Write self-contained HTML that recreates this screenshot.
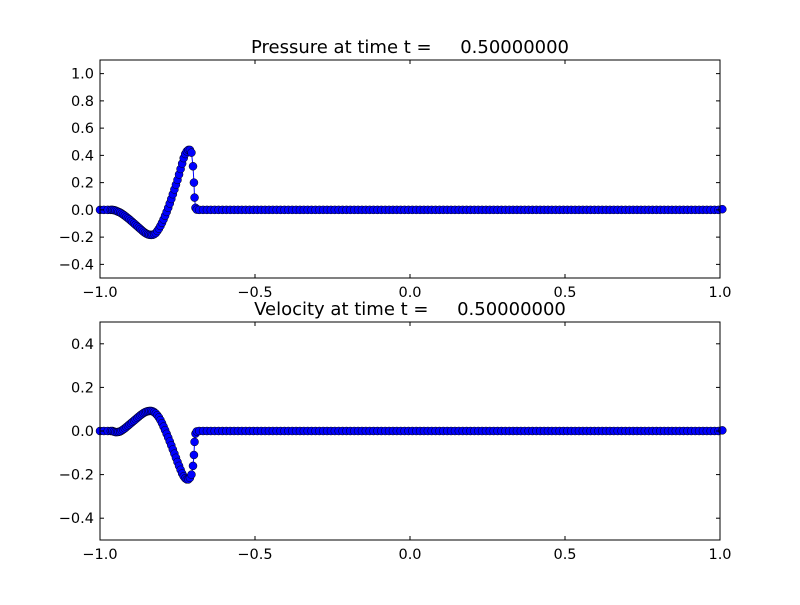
<!DOCTYPE html>
<html><head><meta charset="utf-8"><style>
body{margin:0;background:#fff;}
svg text{font-family:"DejaVu Sans","Liberation Sans",sans-serif;}
</style></head><body>
<svg id="chart" width="800" height="600" xmlns="http://www.w3.org/2000/svg">
<rect width="800" height="600" fill="#fff"/>
</svg>
<script>
const waveX = [-1.0,-0.9875,-0.975,-0.965,-0.96,-0.955,-0.95,-0.945,-0.94,-0.935,-0.93,-0.925,-0.92,-0.915,-0.91,-0.905,-0.9,-0.895,-0.89,-0.885,-0.88,-0.875,-0.87,-0.865,-0.86,-0.855,-0.85,-0.845,-0.84,-0.835,-0.83,-0.825,-0.82,-0.815,-0.81,-0.805,-0.8,-0.795,-0.79,-0.785,-0.78,-0.775,-0.77,-0.765,-0.76,-0.755,-0.75,-0.745,-0.74,-0.735,-0.73,-0.725,-0.72,-0.715,-0.71,-0.705,-0.7,-0.697,-0.695,-0.692,-0.688];
const wavePressure = [0,0,0,0,0,-0.002,-0.005,-0.01,-0.015,-0.02,-0.027,-0.035,-0.043,-0.052,-0.061,-0.07,-0.08,-0.09,-0.1,-0.11,-0.12,-0.13,-0.14,-0.15,-0.16,-0.168,-0.175,-0.18,-0.183,-0.184,-0.183,-0.178,-0.17,-0.155,-0.138,-0.118,-0.095,-0.07,-0.043,-0.015,0.015,0.047,0.08,0.115,0.15,0.185,0.22,0.26,0.3,0.34,0.38,0.41,0.43,0.44,0.44,0.42,0.32,0.2,0.09,0.015,0.002];
const waveVelocity = [0,0,0,0,0,-0.003,-0.005,-0.005,-0.004,-0.002,0.002,0.007,0.012,0.018,0.024,0.03,0.036,0.042,0.048,0.054,0.06,0.066,0.072,0.077,0.082,0.086,0.089,0.091,0.092,0.092,0.09,0.086,0.08,0.072,0.062,0.05,0.036,0.02,0.004,-0.013,-0.03,-0.048,-0.066,-0.085,-0.104,-0.123,-0.142,-0.16,-0.178,-0.195,-0.208,-0.217,-0.222,-0.222,-0.215,-0.2,-0.16,-0.11,-0.05,-0.012,-0.002];
const tailStart = -0.68, tailStep = 0.0125, tailCount = 136;
const tailPressure = [0,0,0,0,0,0,0,0,0,0,0,0,0,0,0,0,0,0,0,0,0,0,0,0,0,0,0,0,0,0,0,0,0,0,0,0,0,0,0,0,0,0,0,0,0,0,0,0,0,0,0,0,0,0,0,0,0,0,0,0,0,0,0,0,0,0,0,0,0,0,0,0,0,0,0,0,0,0,0,0,0,0,0,0,0,0,0,0,0,0,0,0,0,0,0,0,0,0,0,0,0,0,0,0,0,0,0,0,0,0,0,0,0,0,0,0,0,0,0,0,0,0,0,0,0,0,0,0,0,0,0,0,0,0,0,0.005];
const tailVelocity = [0,0,0,0,0,0,0,0,0,0,0,0,0,0,0,0,0,0,0,0,0,0,0,0,0,0,0,0,0,0,0,0,0,0,0,0,0,0,0,0,0,0,0,0,0,0,0,0,0,0,0,0,0,0,0,0,0,0,0,0,0,0,0,0,0,0,0,0,0,0,0,0,0,0,0,0,0,0,0,0,0,0,0,0,0,0,0,0,0,0,0,0,0,0,0,0,0,0,0,0,0,0,0,0,0,0,0,0,0,0,0,0,0,0,0,0,0,0,0,0,0,0,0,0,0,0,0,0,0,0,0,0,0,0,0,0.003];
const xTicks = [-1.0,-0.5,0.0,0.5,1.0];
const pTicks = [-0.4,-0.2,0.0,0.2,0.4,0.6,0.8,1.0];
const vTicks = [-0.4,-0.2,0.0,0.2,0.4];

const NS = "http://www.w3.org/2000/svg";
const svg = document.getElementById('chart');
function mk(tag, attrs, parent){const e=document.createElementNS(NS,tag);for(const k in attrs)e.setAttribute(k,attrs[k]);(parent||svg).appendChild(e);return e;}
function fmt(t){const s=Math.abs(t).toFixed(1);return (t<-1e-9?'\u2212':'')+s;}

const xs = waveX.slice();
for(let i=0;i<tailCount;i++) xs.push(tailStart+i*tailStep);
const P = wavePressure.concat(tailPressure);
const V = waveVelocity.concat(tailVelocity);

function panel(name, top, bottom, ymin, ymax, yticks, vals, title){
  const L=100,R=720;
  const sx=v=>L+(v+1)/2*(R-L);
  const sy=v=>bottom-(v-ymin)/(ymax-ymin)*(bottom-top);
  const g=mk('g',{});
  
  
  let d='';
  xs.forEach((x,i)=>{d+=(i?'L':'M')+sx(x).toFixed(2)+','+sy(vals[i]).toFixed(2);});
  const line=mk('path',{d:d,fill:'none',stroke:'#0000ff','stroke-width':1},g);
  
  
  xs.forEach((x,i)=>{
    const c=mk('circle',{cx:sx(x).toFixed(2),cy:sy(vals[i]).toFixed(2),r:4,fill:'#0000ff',stroke:'#000','stroke-width':0.5},g);
    
    
  });
  const frame=mk('rect',{x:L,y:top,width:R-L,height:bottom-top,fill:'none',stroke:'#000','stroke-width':1},g);
  
  
  xTicks.forEach(t=>{
    const x=sx(t);
    mk('line',{x1:x,x2:x,y1:bottom,y2:bottom-4,stroke:'#000'},g);
    mk('line',{x1:x,x2:x,y1:top,y2:top+4,stroke:'#000'},g);
    const tx=mk('text',{x:x,y:bottom+19,'text-anchor':'middle','font-size':14.5},g);
    tx.textContent=fmt(t);
    
    
  });
  yticks.forEach(t=>{
    const y=sy(t);
    mk('line',{x1:L,x2:L+4,y1:y,y2:y,stroke:'#000'},g);
    mk('line',{x1:R,x2:R-4,y1:y,y2:y,stroke:'#000'},g);
    const tx=mk('text',{x:L-6,y:y+5,'text-anchor':'end','font-size':14.5},g);
    tx.textContent=fmt(t);
    
    
  });
  const tt=mk('text',{x:410,y:top-7,'text-anchor':'middle','font-size':18},g);
  tt.setAttribute('xml:space','preserve');
  tt.style.whiteSpace='pre';
  tt.textContent=title;
  
  
}
panel('pressure',60,278,-0.5,1.1,pTicks,P,'Pressure at time t =     0.50000000');
panel('velocity',322,540,-0.5,0.5,vTicks,V,'Velocity at time t =     0.50000000');
</script>
</body></html>
